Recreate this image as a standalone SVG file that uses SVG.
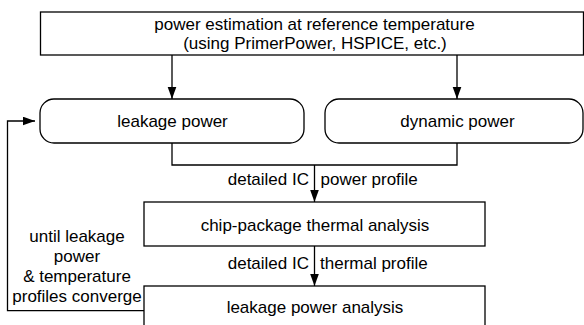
<svg xmlns="http://www.w3.org/2000/svg" width="584" height="325" viewBox="0 0 584 325">
<style>
.box{fill:#fff;stroke:#000;stroke-width:1.3}
.ln{fill:none;stroke:#000;stroke-width:1.3}
text{font-family:"Liberation Sans",Arial,sans-serif;font-size:17px;fill:#000}
.c{text-anchor:middle}
.e{text-anchor:end}
</style>
<defs>
<marker id="ah" markerUnits="userSpaceOnUse" markerWidth="13" markerHeight="10" refX="12.5" refY="4.5" orient="auto">
<path d="M0,0 L12.5,4.5 L0,9 z" fill="#000"/>
</marker>
</defs>
<rect width="584" height="325" fill="#fff"/>
<g id="connectors">
<line class="ln" x1="172" y1="55" x2="172" y2="99" marker-end="url(#ah)"/>
<line class="ln" x1="457" y1="55" x2="457" y2="99" marker-end="url(#ah)"/>
<polyline class="ln" points="172,143 172,165 457,165 457,143"/>
<line class="ln" x1="314.5" y1="165" x2="314.5" y2="202" marker-end="url(#ah)"/>
<line class="ln" x1="314.5" y1="246" x2="314.5" y2="286" marker-end="url(#ah)"/>
<polyline class="ln" points="144,310.7 7.5,310.7 7.5,121 35,121" marker-end="url(#ah)"/>
<text class="e" x="309" y="184.5">detailed IC</text>
<text x="320.5" y="184.5">power profile</text>
<text class="e" x="309" y="269">detailed IC</text>
<text x="320" y="269">thermal profile</text>
<text class="c" x="77" y="242">until leakage</text>
<text class="c" x="77" y="262">power</text>
<text class="c" x="77" y="282">&amp; temperature</text>
<text class="c" x="77" y="302">profiles converge</text>
</g>
<g id="estimation">
<rect class="box" x="40.5" y="12" width="543" height="43"/>
<text class="c" x="314.5" y="29.5">power estimation at reference temperature</text>
<text class="c" x="315" y="49">(using PrimerPower, HSPICE, etc.)</text>
</g>
<g id="leakage">
<rect class="box" x="40" y="99" width="264" height="44" rx="14" ry="14"/>
<text class="c" x="172.5" y="127">leakage power</text>
</g>
<g id="dynamic">
<rect class="box" x="325" y="99" width="258" height="44" rx="14" ry="14"/>
<text class="c" x="457.5" y="127">dynamic power</text>
</g>
<g id="thermal">
<rect class="box" x="144" y="202" width="341" height="44"/>
<text class="c" x="315" y="230.5">chip-package thermal analysis</text>
</g>
<g id="leakage-analysis">
<rect class="box" x="144" y="286" width="341" height="46"/>
<text class="c" x="315" y="312.5">leakage power analysis</text>
</g>
</svg>
